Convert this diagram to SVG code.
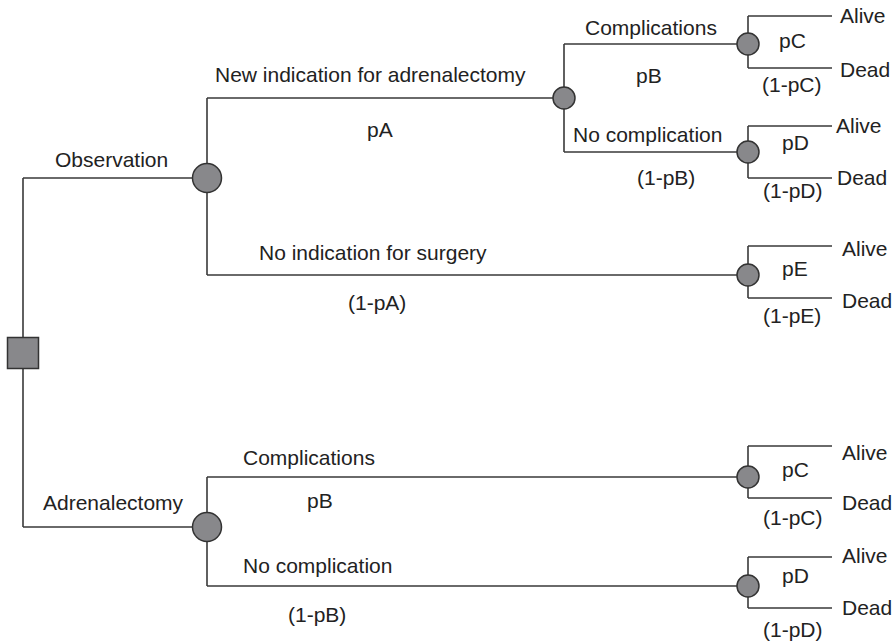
<svg xmlns="http://www.w3.org/2000/svg" width="896" height="642" viewBox="0 0 896 642">
<style>
.l{stroke:#3a3a3a;stroke-width:1.6;fill:none}
.c{fill:#88888b;stroke:#333;stroke-width:1.5}
text{font-family:"Liberation Sans",Arial,sans-serif;font-size:21px;fill:#222}
</style>
<rect width="896" height="642" fill="#fff"/>
<g id="connectors">
<path class="l" d="M23 178V527M23 178H207M207 98V275M207 98H564M207 275H748M564 44V152M564 44H748M564 152H748M748 16V68M748 16H832M748 68H832M748 126V178M748 126H832M748 178H832M748 246V298M748 246H832M748 298H832M23 527H207M207 477V586M207 477H748M207 586H748M748 446V498M748 446H832M748 498H832M748 557V608M748 557H832M748 608H832"/>
</g>
<g id="decision"><rect class="c" x="7.5" y="337.5" width="31" height="31"/></g>
<g id="obs"><circle class="c" cx="207" cy="178" r="14.5"/></g>
<g id="adr"><circle class="c" cx="207" cy="527" r="14.5"/></g>
<g id="chanceB1"><circle class="c" cx="564" cy="98" r="11"/></g>
<g id="chanceC1"><circle class="c" cx="748" cy="44" r="11"/></g>
<g id="chanceD1"><circle class="c" cx="748" cy="152" r="11"/></g>
<g id="chanceE"><circle class="c" cx="748" cy="275" r="11"/></g>
<g id="chanceC2"><circle class="c" cx="748" cy="477" r="11"/></g>
<g id="chanceD2"><circle class="c" cx="748" cy="586" r="11"/></g>
<g id="labels">
<text x="55" y="167">Observation</text>
<text x="215" y="82">New indication for adrenalectomy</text>
<text x="367" y="137">pA</text>
<text x="259" y="260">No indication for surgery</text>
<text x="348" y="310">(1-pA)</text>
<text x="585" y="35">Complications</text>
<text x="636" y="83">pB</text>
<text x="573" y="142">No complication</text>
<text x="637" y="185">(1-pB)</text>
<text x="840" y="23">Alive</text>
<text x="840" y="77">Dead</text>
<text x="779" y="48">pC</text>
<text x="762" y="92">(1-pC)</text>
<text x="836" y="133">Alive</text>
<text x="837" y="185">Dead</text>
<text x="782" y="150">pD</text>
<text x="763" y="198">(1-pD)</text>
<text x="842" y="256">Alive</text>
<text x="842" y="308">Dead</text>
<text x="782" y="276">pE</text>
<text x="763" y="323">(1-pE)</text>
<text x="43" y="510">Adrenalectomy</text>
<text x="243" y="465">Complications</text>
<text x="307" y="508">pB</text>
<text x="243" y="573">No complication</text>
<text x="288" y="622">(1-pB)</text>
<text x="842" y="460">Alive</text>
<text x="842" y="510">Dead</text>
<text x="782" y="477">pC</text>
<text x="763" y="525">(1-pC)</text>
<text x="842" y="563">Alive</text>
<text x="842" y="615">Dead</text>
<text x="782" y="583">pD</text>
<text x="763" y="637">(1-pD)</text>
</g>
</svg>
